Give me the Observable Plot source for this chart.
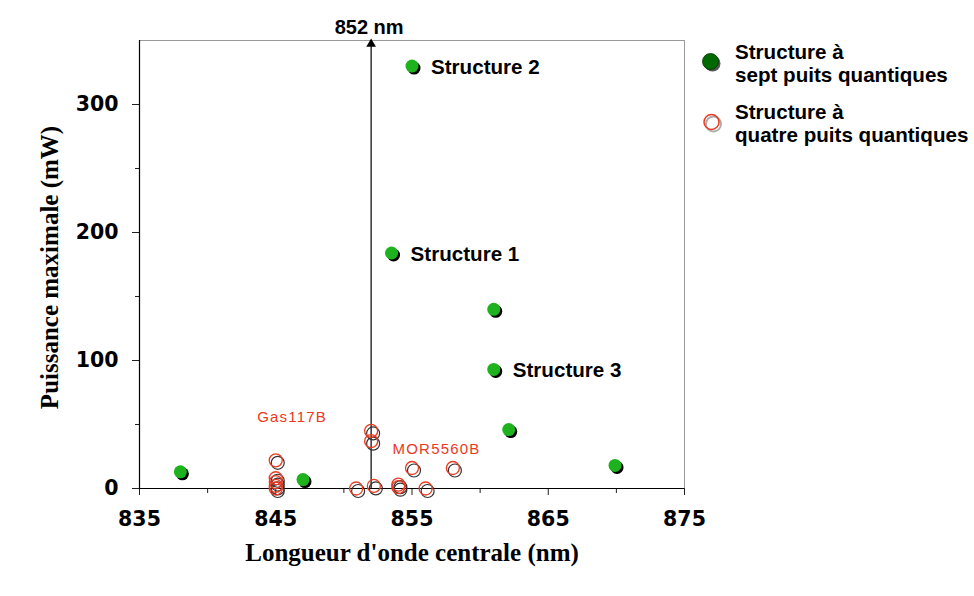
<!DOCTYPE html>
<html>
<head>
<meta charset="utf-8">
<script src="https://cdn.jsdelivr.net/npm/d3@7"></script>
<script src="https://cdn.jsdelivr.net/npm/@observablehq/plot@0.6"></script>
<style>
  html, body { margin: 0; padding: 0; background: white; }
  #wrap { position: relative; width: 974px; height: 596px; overflow: hidden; }
  #chart svg { display: block; }
  g[aria-description="ticklabels"] text { font-family: "DejaVu Sans", Verdana, sans-serif; font-weight: bold; font-size: 20.5px; }
  g[aria-description="samples"] text { letter-spacing: 1.2px; }
  #legend { position: absolute; left: 0; top: 0; width: 974px; height: 200px; pointer-events: none;
            font-family: "Liberation Sans", Arial, sans-serif; font-weight: bold; font-size: 20.6px; color: #000; }
  .lg-text { position: absolute; left: 735px; line-height: 23px; white-space: nowrap; }
  .lg-sw { position: absolute; left: 0; top: 0; }
</style>
</head>
<body>
<div id="wrap">
  <div id="chart"></div>
  <div id="legend"></div>
</div>
<script>
// ---------- data ----------
const sevenWellsNm = [838.0, 847.0, 853.5, 855.0, 861.0, 861.0, 862.1, 869.9];
const sevenWellsMw = [13, 7, 184, 330, 140, 93, 46, 18];

const fourWellsNm = [845, 845, 845, 845, 845, 850.9, 852, 852, 852.2, 854, 854, 855, 856, 858];
const fourWellsMw = [22, 8, 5, 2, 0, 0, 45, 37, 2, 3, 1, 16, 0, 16];

const structureLabels = ["Structure 1", "Structure 2", "Structure 3"];
const structureNm = [853.5, 855.0, 861.0];
const structureMw = [184, 330, 93];

const sampleLabels = ["Gas117B", "MOR5560B"];
const sampleNm = [846.2, 856.8];
const sampleMw = [56, 30.5];

const referenceNm = [852];

const xMajorTicks = [835, 845, 855, 865, 875];
const xMinorTicks = [840, 850, 860, 870];
const yMajorTicks = [0, 100, 200, 300];
const yMinorTicks = [50, 150, 250];

const xTitle = "Longueur d'onde centrale (nm)";
const yTitle = "Puissance maximale (mW)";
const legendLabels = [["Structure à", "sept puits quantiques"], ["Structure à", "quatre puits quantiques"]];

const xDomain = [835, 875];
const yDomain = [0, 350];

// ---------- tables ----------
const seven = sevenWellsNm.map((x, i) => ({x, y: sevenWellsMw[i]}));
const four = fourWellsNm.map((x, i) => ({x, y: fourWellsMw[i]}));
const structures = structureLabels.map((t, i) => ({t, x: structureNm[i], y: structureMw[i]}));
const samples = sampleLabels.map((t, i) => ({t, x: sampleNm[i], y: sampleMw[i]}));

const RED = "#ea3a22";
const GREEN = "#1fb21f";

const chart = Plot.plot({
  width: 974,
  height: 596,
  marginLeft: 139,
  marginRight: 290,
  marginTop: 40,
  marginBottom: 108,
  x: {domain: xDomain},
  y: {domain: yDomain},
  style: {fontFamily: "'Liberation Sans', Arial, sans-serif", background: "white", color: "black"},
  marks: [
    // frame top/right (gray)
    Plot.ruleY([yDomain[1]], {stroke: "#9a9a9a", strokeWidth: 1}),
    Plot.ruleX([xDomain[1]], {stroke: "#9a9a9a", strokeWidth: 1}),
    // axes
    Plot.axisX({ticks: xMajorTicks, tickSize: 7, tickPadding: 16, label: null, ariaDescription: "ticklabels", stroke: "#222"}),
    Plot.axisX({ticks: xMinorTicks, tickSize: 5, tickFormat: () => "", label: null, stroke: "#222"}),
    Plot.axisY({ticks: yMajorTicks, tickSize: 7, tickPadding: 14, label: null, ariaDescription: "ticklabels", stroke: "#222"}),
    Plot.axisY({ticks: yMinorTicks, tickSize: 4, tickFormat: () => "", label: null, stroke: "#222"}),
    Plot.ruleY([yDomain[0]], {stroke: "black", strokeWidth: 1.2}),
    Plot.ruleX([xDomain[0]], {stroke: "black", strokeWidth: 1.2}),
    // axis titles
    Plot.text([xTitle], {frameAnchor: "bottom", dy: 72, text: d => d, textAnchor: "middle", fontFamily: "'Liberation Serif', 'Times New Roman', serif", fontWeight: "bold", fontSize: 25}),
    Plot.text([yTitle], {frameAnchor: "left", dx: -90, dy: 3, rotate: -90, textAnchor: "middle", text: d => d, fontFamily: "'Liberation Serif', 'Times New Roman', serif", fontWeight: "bold", fontSize: 25}),
    // reference arrow
    Plot.ruleX(referenceNm, {x: d => d, y1: yDomain[0], y2: yDomain[1], stroke: "black", strokeWidth: 1.2}),
    Plot.dot(referenceNm, {x: d => d, y: yDomain[1], symbol: "triangle", r: 3.6, fill: "black", dy: 3.5}),
    Plot.text(referenceNm, {x: d => d, y: yDomain[1], text: d => `${d} nm`, dx: -2, dy: -13, fontWeight: "bold", fontSize: 20}),
    // four-well open circles
    Plot.dot(four, {x: "x", y: "y", r: 6.5, stroke: "#333", strokeWidth: 1.2, fill: "none", dx: 2, dy: 2.5}),
    Plot.dot(four, {x: "x", y: "y", r: 6.5, stroke: RED, strokeWidth: 1.3, fill: "none"}),
    // seven-well filled
    Plot.dot(seven, {x: "x", y: "y", r: 6.5, fill: "black", dx: 2, dy: 2}),
    Plot.dot(seven, {x: "x", y: "y", r: 6.5, fill: GREEN}),
    // annotations
    Plot.text(structures, {x: "x", y: "y", text: "t", textAnchor: "start", dx: 19, dy: 1, fontWeight: "bold", fontSize: 20.6}),
    Plot.text(samples, {x: "x", y: "y", text: "t", fill: RED, fontSize: 15, ariaDescription: "samples"})
  ]
});
document.getElementById("chart").append(chart);

// ---------- legend (right side) ----------
const legend = document.getElementById("legend");
const sw = d3.create("svg").attr("class", "lg-sw").attr("width", 974).attr("height", 200);
// filled swatch
sw.append("circle").attr("cx", 712.5).attr("cy", 63.5).attr("r", 8).attr("fill", "#555");
sw.append("circle").attr("cx", 710.5).attr("cy", 61.5).attr("r", 8).attr("fill", "#006a00").attr("stroke", "#003300").attr("stroke-width", 0.8);
// open swatch
sw.append("circle").attr("cx", 713.5).attr("cy", 124).attr("r", 7.5).attr("fill", "none").attr("stroke", "#aaa").attr("stroke-width", 1.8);
sw.append("circle").attr("cx", 711.5).attr("cy", 122).attr("r", 7.5).attr("fill", "none").attr("stroke", RED).attr("stroke-width", 1.5);
legend.append(sw.node());
const tops = [40, 100];
legendLabels.forEach((lines, i) => {
  const div = document.createElement("div");
  div.className = "lg-text";
  div.style.top = tops[i] + "px";
  div.innerHTML = lines.join("<br>");
  legend.append(div);
});
</script>
</body>
</html>
